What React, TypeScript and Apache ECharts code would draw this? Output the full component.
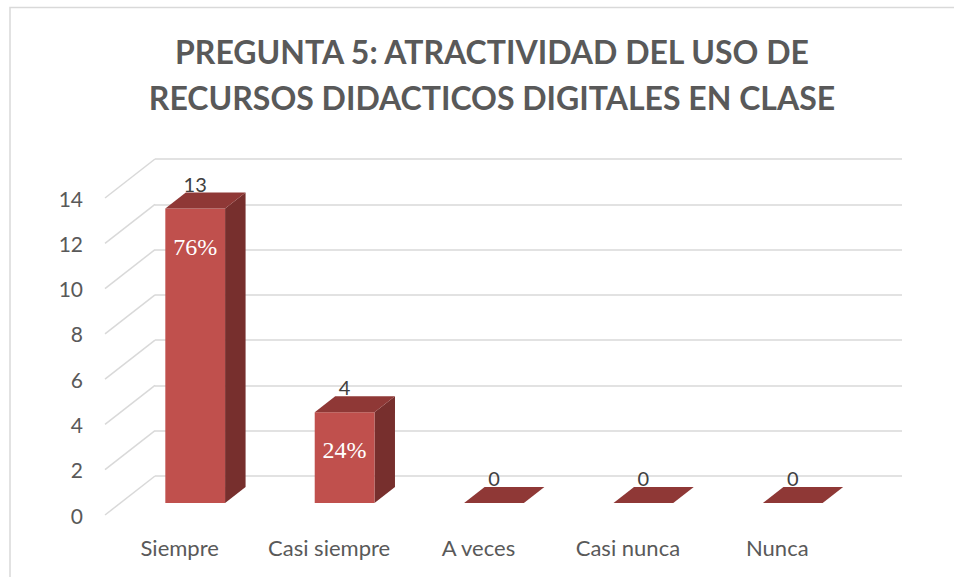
import React, { useEffect, useRef } from "react";
import * as echarts from "echarts";

const categories = ["Siempre", "Casi siempre", "A veces", "Casi nunca", "Nunca"];
const values = [13, 4, 0, 0, 0];
const percentLabels = ["76%", "24%", "", "", ""];
const yTicks = [0, 2, 4, 6, 8, 10, 12, 14];
const titleText = "PREGUNTA 5: ATRACTIVIDAD DEL USO DE\nRECURSOS DIDACTICOS DIGITALES EN CLASE";

// depth vector from back wall to front edge of the floor
const DX = -50;
const DY = 39;
const FRONT = 0.69;
const BACK = 0.28;

export default function App() {
  const ref = useRef<HTMLDivElement>(null);
  useEffect(() => {
    if (!ref.current) return;
    const chart = echarts.init(ref.current, undefined, { renderer: "svg" });
    const fontFam = "Lato, 'Open Sans', sans-serif";
    chart.setOption({
      animation: false,
      backgroundColor: "#ffffff",
      title: {
        text: titleText,
        left: 487,
        textAlign: "center",
        top: 23,
        textStyle: {
          fontFamily: fontFam,
          fontSize: 32,
          fontWeight: "bold",
          color: "#595959",
          lineHeight: 46,
        },
      },
      graphic: [
        {
          type: "rect",
          shape: { x: 10, y: 7.5, width: 1000, height: 1000 },
          style: { fill: "none", stroke: "#d9d9d9", lineWidth: 1.5 },
          silent: true,
          z: -10,
        },
      ],
      grid: [
        { left: 155, right: 52, top: 159, bottom: 101 },
        { left: 105, right: 102, top: 198, bottom: 62 },
      ],
      xAxis: [
        {
          type: "category",
          gridIndex: 0,
          data: categories,
          show: false,
        },
        {
          type: "category",
          gridIndex: 1,
          data: categories,
          axisLine: { show: false },
          axisTick: { show: false },
          axisLabel: {
            interval: 0,
            hideOverlap: false,
            margin: 21,
            fontSize: 22,
            color: "#595959",
            fontFamily: fontFam,
          },
        },
      ],
      yAxis: [
        {
          type: "value",
          gridIndex: 0,
          min: 0,
          max: 14,
          interval: 2,
          axisLine: { show: false },
          axisTick: { show: false },
          axisLabel: { show: false },
          splitLine: { lineStyle: { color: "#d9d9d9", width: 1.5 } },
        },
        {
          type: "value",
          gridIndex: 1,
          min: 0,
          max: 14,
          interval: 2,
          axisLine: { show: false },
          axisTick: { show: false },
          splitLine: { show: false },
          axisLabel: { margin: 22, fontSize: 21, color: "#595959", fontFamily: fontFam },
        },
      ],
      series: [
        {
          type: "custom",
          xAxisIndex: 0,
          yAxisIndex: 0,
          silent: true,
          z: 1,
          data: yTicks.map((t) => [0, t]),
          renderItem: (params: any, api: any) => {
            const cs = params.coordSys;
            const y = api.coord([0, api.value(1)])[1];
            return {
              type: "line",
              shape: { x1: cs.x, y1: y, x2: cs.x + DX, y2: y + DY },
              style: { stroke: "#d9d9d9", lineWidth: 1.5 },
            };
          },
        },
        {
          type: "custom",
          xAxisIndex: 0,
          yAxisIndex: 0,
          silent: true,
          z: 5,
          data: values.map((v, i) => [i, v]),
          renderItem: (params: any, api: any) => {
            const idx = api.value(0);
            const v = api.value(1);
            const top = api.coord([idx, v]);
            const base = api.coord([idx, 0]);
            const band = api.size([1, 0])[0];
            const half = band * 0.2;
            const fx = top[0] + DX * FRONT;
            const fyTop = top[1] + DY * FRONT;
            const fyBot = base[1] + DY * FRONT;
            const bx = top[0] + DX * BACK;
            const byTop = top[1] + DY * BACK;
            const byBot = base[1] + DY * BACK;
            const children: any[] = [];
            if (v > 0) {
              children.push({
                type: "polygon",
                shape: {
                  points: [
                    [fx + half, fyBot],
                    [fx + half, fyTop],
                    [bx + half, byTop],
                    [bx + half, byBot],
                  ],
                },
                style: { fill: "#772f2d" },
              });
              children.push({
                type: "rect",
                shape: { x: fx - half, y: fyTop, width: half * 2, height: fyBot - fyTop },
                style: { fill: "#c0504d" },
              });
            }
            children.push({
              type: "polygon",
              shape: {
                points: [
                  [fx - half, fyTop],
                  [fx + half, fyTop],
                  [bx + half, byTop],
                  [bx - half, byTop],
                ],
              },
              style: { fill: "#8f3836" },
            });
            children.push({
              type: "text",
              style: {
                x: fx,
                y: top[1] + 2,
                text: String(v),
                fill: "#404040",
                fontSize: 20,
                fontFamily: fontFam,
                align: "center",
                verticalAlign: "middle",
              },
              z2: 10,
            });
            const pl = percentLabels[idx];
            if (pl) {
              children.push({
                type: "text",
                style: {
                  x: fx,
                  y: fyTop + 38,
                  text: pl,
                  fill: "#ffffff",
                  fontSize: 24,
                  fontFamily: "'Liberation Serif', 'DejaVu Serif', serif",
                  align: "center",
                  verticalAlign: "middle",
                },
                z2: 10,
              });
            }
            return { type: "group", children };
          },
        },
      ],
    });
    return () => chart.dispose();
  }, []);
  return (
    <div
      ref={ref}
      style={{ position: "absolute", left: 0, top: 0, width: 954, height: 577 }}
    />
  );
}
